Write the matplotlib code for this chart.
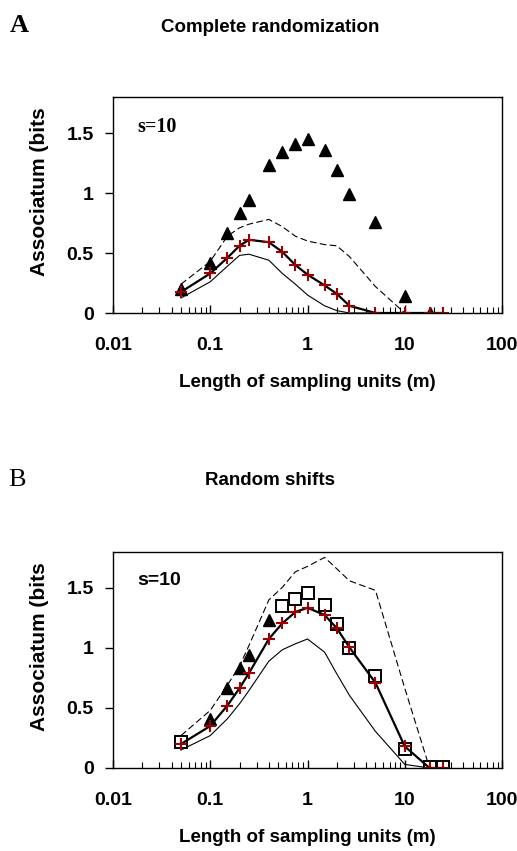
import matplotlib
matplotlib.use("Agg")
import matplotlib.pyplot as plt
from matplotlib.ticker import FixedLocator, FixedFormatter, LogLocator, NullFormatter

plt.rcParams['font.family'] = ['Liberation Sans', 'DejaVu Sans']

# sampling unit lengths (m)
x_all = [0.05, 0.1, 0.15, 0.2, 0.25, 0.4, 0.55, 0.75, 1, 1.5, 2, 2.7, 5, 10, 18, 25]

# observed associatum (triangles), same in both panels
obs_x = [0.05, 0.1, 0.15, 0.2, 0.25, 0.4, 0.55, 0.75, 1, 1.5, 2, 2.7, 5, 10, 18]
obs_y = [0.20, 0.42, 0.67, 0.83, 0.94, 1.23, 1.34, 1.41, 1.45, 1.36, 1.19, 0.99, 0.76, 0.14, 0.0]

# panel A: complete randomization
a_mean = [0.175, 0.33, 0.46, 0.56, 0.61, 0.59, 0.51, 0.40, 0.32, 0.23, 0.16, 0.06, 0, 0, 0, 0]
a_upper = [0.24, 0.43, 0.64, 0.71, 0.74, 0.78, 0.72, 0.64, 0.60, 0.57, 0.56, 0.47, 0.22, 0, 0, 0]
a_lower = [0.125, 0.26, 0.39, 0.48, 0.49, 0.44, 0.33, 0.24, 0.15, 0.06, 0.02, 0, 0, 0, 0, 0]

# panel B: random shifts
b_tri_x = [0.1, 0.15, 0.2, 0.25, 0.4]
b_tri_y = [0.41, 0.665, 0.83, 0.94, 1.23]
b_sq_x = [0.05, 0.55, 0.75, 1, 1.5, 2, 2.7, 5, 10, 18, 25]
b_sq_y = [0.22, 1.35, 1.41, 1.455, 1.36, 1.20, 1.00, 0.77, 0.155, 0.01, 0.01]
b_mean = [0.20, 0.35, 0.52, 0.665, 0.79, 1.075, 1.205, 1.30, 1.335, 1.275, 1.165, 1.005, 0.71, 0.18, 0, 0]
b_upper = [0.27, 0.48, 0.69, 0.85, 1.02, 1.40, 1.505, 1.635, 1.68, 1.755, 1.66, 1.56, 1.48, 0.665, 0, 0]
b_lower = [0.15, 0.27, 0.41, 0.535, 0.645, 0.89, 0.985, 1.035, 1.075, 0.965, 0.785, 0.605, 0.305, 0.03, 0, 0]

yticks = [0, 0.5, 1, 1.5]
ytick_labels = ["0", "0.5", "1", "1.5"]
xticks = [0.01, 0.1, 1, 10, 100]
xtick_labels = ["0.01", "0.1", "1", "10", "100"]

W, H = 517, 851
fig = plt.figure(figsize=(W / 100, H / 100), dpi=100)

red = "#a00000"


def setup(ax):
    ax.set_xscale("log")
    ax.set_xlim(0.01, 100)
    ax.set_ylim(0, 1.8)
    ax.yaxis.set_major_locator(FixedLocator(yticks))
    ax.yaxis.set_major_formatter(FixedFormatter(ytick_labels))
    ax.xaxis.set_major_locator(FixedLocator(xticks))
    ax.xaxis.set_major_formatter(FixedFormatter(xtick_labels))
    ax.xaxis.set_minor_locator(LogLocator(base=10, subs=range(2, 10)))
    ax.xaxis.set_minor_formatter(NullFormatter())
    ax.tick_params(axis="x", which="major", direction="in", length=6, width=1, pad=17)
    ax.tick_params(axis="x", which="minor", direction="in", length=4, width=0.8)
    ax.tick_params(axis="y", direction="out", length=6, width=1, pad=8)
    for lab in ax.get_xticklabels() + ax.get_yticklabels():
        lab.set_fontsize(14)
        lab.set_fontweight("bold")
    for sp in ax.spines.values():
        sp.set_linewidth(1)
    ax.set_xlabel("Length of sampling units (m)", fontsize=13.5, fontweight="bold", labelpad=15)
    ax.set_ylabel("Associatum (bits", fontsize=15, fontweight="bold")
    ax.yaxis.set_label_coords(-0.165, 0.56)


# ---- panel A
axA = fig.add_axes([113 / W, 1 - 313 / H, 389 / W, 216 / H])
setup(axA)
axA.plot(x_all, a_upper, color="black", lw=0.8, ls=(0, (6, 3)))
axA.plot(x_all, a_lower, color="black", lw=0.8)
axA.plot(obs_x, obs_y, ls="none", marker="^", ms=9, color="black")
axA.plot(x_all, a_mean, color="black", lw=1.6, marker="+", ms=9, mec=red, mew=1.5)
axA.text(0.062, 0.86, "s=10", transform=axA.transAxes, fontsize=14.5, fontweight="bold",
         family="Liberation Serif", va="center")

fig.text(10 / W, 1 - 26 / H, "A", fontsize=19, fontweight="bold", family="Liberation Serif", va="center")
fig.text(270 / W, 1 - 27 / H, "Complete randomization", fontsize=13.5, fontweight="bold",
         ha="center", va="center")

# ---- panel B
axB = fig.add_axes([113 / W, 1 - 768 / H, 389 / W, 216 / H])
setup(axB)
axB.plot(x_all, b_upper, color="black", lw=0.8, ls=(0, (6, 3)))
axB.plot(x_all, b_lower, color="black", lw=0.8)
axB.plot(b_tri_x, b_tri_y, ls="none", marker="^", ms=9, color="black")
axB.plot(b_sq_x, b_sq_y, ls="none", marker="s", ms=8, mfc="white", mec="black", mew=1.4)
axB.plot(x_all, b_mean, color="black", lw=1.6, marker="+", ms=9, mec=red, mew=1.5)
axB.text(0.062, 0.87, "s=10", transform=axB.transAxes, fontsize=14, fontweight="bold", va="center")

fig.text(8 / W, 1 - 480 / H, "B", fontsize=19, family="Liberation Serif", va="center")
fig.text(270 / W, 1 - 481 / H, "Random shifts", fontsize=13.5, fontweight="bold",
         ha="center", va="center")

fig.savefig("out.png", dpi=100)
